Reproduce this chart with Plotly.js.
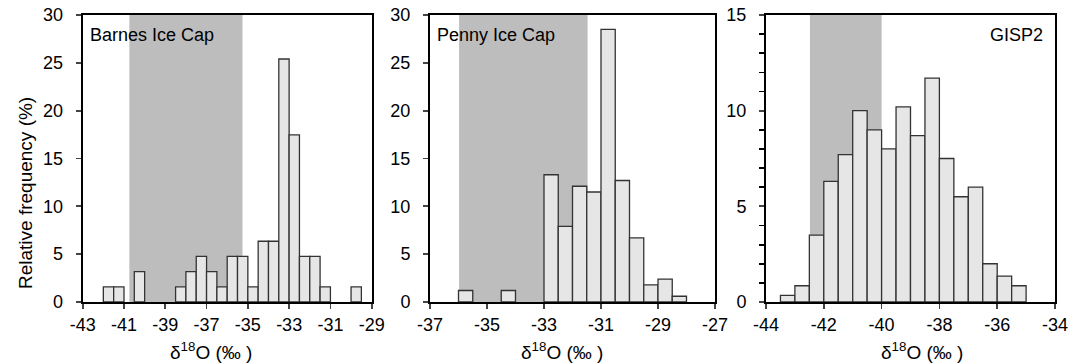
<!DOCTYPE html>
<html><head><meta charset="utf-8">
<script src="https://cdn.plot.ly/plotly-3.0.1.min.js"></script>
<style>html,body{margin:0;padding:0;background:#fff}</style>
</head><body>
<div id="chart" style="width:1079px;height:364px"></div>
<script>
// ---- data ----
const barnesBins = [-41.75,-41.25,-40.25,-38.25,-37.75,-37.25,-36.75,-36.25,-35.75,-35.25,-34.75,-34.25,-33.75,-33.25,-32.75,-32.25,-31.75,-31.25,-29.75];
const barnesFreq = [1.59,1.59,3.17,1.59,3.17,4.76,3.17,1.59,4.76,4.76,1.59,6.35,6.35,25.4,17.46,4.76,4.76,1.59,1.59];
const pennyBins = [-35.75,-34.25,-32.75,-32.25,-31.75,-31.25,-30.75,-30.25,-29.75,-29.25,-28.75,-28.25];
const pennyFreq = [1.2,1.2,13.3,7.9,12.1,11.5,28.5,12.7,6.7,1.8,2.4,0.6];
const gispBins = [-43.25,-42.75,-42.25,-41.75,-41.25,-40.75,-40.25,-39.75,-39.25,-38.75,-38.25,-37.75,-37.25,-36.75,-36.25,-35.75,-35.25];
const gispFreq = [0.35,0.85,3.5,6.3,7.7,10.0,9.0,8.0,10.2,8.7,11.7,7.5,5.5,6.0,2.0,1.35,0.85];
const binWidth = 0.5;
const barnesShade = [-40.74,-35.26];
const pennyShade = [-35.98,-31.47];
const gispShade = [-42.48,-40.0];
const barnesTicks = [-43,-41,-39,-37,-35,-33,-31,-29];
const pennyTicks = [-37,-35,-33,-31,-29,-27];
const gispTicks = [-44,-42,-40,-38,-36,-34];
const yTicks30 = [0,5,10,15,20,25,30];
const yTicks15 = [0,5,10,15];
const panelNames = ["Barnes Ice Cap","Penny Ice Cap","GISP2"];
const yTitle = "Relative frequency (%)";
const xTitle = "\u03b4<sup>18</sup>O (\u2030 )";

// ---- layout helpers ----
const W = 1079, H = 364;
const FONT = "Liberation Sans, Arial, Helvetica, sans-serif";
const FS = 18;
const px = v => v / W;
const py = v => 1 - v / H;
const yDom = [py(302), py(15)];
const bar = (x, y, xa, ya) => ({
  type: 'bar', x: x, y: y, width: binWidth, xaxis: xa, yaxis: ya,
  marker: {color: '#e6e6e6', line: {color: '#333', width: 1.3}},
  hoverinfo: 'x+y', showlegend: false
});
const lab = t => t.map(v => String(v));
const xax = (dom, ticks, anchor) => ({
  domain: dom, range: [ticks[0], ticks[ticks.length-1]], anchor: anchor,
  tickvals: ticks, ticktext: lab(ticks), ticks: 'outside', ticklen: 5, tickwidth: 1.8,
  showline: true, linewidth: 2, linecolor: '#000', mirror: true, showgrid: false, zeroline: false,
  tickfont: {family: FONT, size: FS, color: '#000'}, automargin: false
});
const yax = (ticks, anchor, minor) => {
  const a = {
    domain: yDom, range: [ticks[0], ticks[ticks.length-1]], anchor: anchor,
    tickvals: ticks, ticktext: lab(ticks), ticks: 'outside', ticklen: 5, tickwidth: 1.8,
    ticklabelstandoff: 9,
    showline: true, linewidth: 2, linecolor: '#000', mirror: true, showgrid: false, zeroline: false,
    tickfont: {family: FONT, size: FS, color: '#000'}, automargin: false
  };
  if (minor) a.minor = {dtick: 1, ticks: 'outside', ticklen: 5, tickwidth: 1.8, tickcolor: '#000', showgrid: false};
  return a;
};
const shade = (r, xa, ya) => ({
  type: 'rect', xref: xa, yref: ya + ' domain', x0: r[0], x1: r[1], y0: 0, y1: 1,
  fillcolor: '#bdbdbd', line: {width: 0}, layer: 'below'
});
const txt = (text, x, y, opts) => Object.assign({
  text: text, xref: 'paper', yref: 'paper', x: px(x), y: py(y), showarrow: false,
  font: {family: FONT, size: FS, color: '#000'}
}, opts || {});

const data = [
  bar(barnesBins, barnesFreq, 'x', 'y'),
  bar(pennyBins, pennyFreq, 'x2', 'y2'),
  bar(gispBins, gispFreq, 'x3', 'y3')
];

const XT = {family: FONT, size: 19, color: '#000'};
const layout = {
  width: W, height: H, margin: {l: 0, r: 0, t: 0, b: 0},
  paper_bgcolor: '#fff', plot_bgcolor: 'rgba(0,0,0,0)',
  bargap: 0,
  xaxis: xax([px(82.7), px(371.7)], barnesTicks, 'y'),
  yaxis: yax(yTicks30, 'x', false),
  xaxis2: xax([px(430), px(715)], pennyTicks, 'y2'),
  yaxis2: yax(yTicks30, 'x2', false),
  xaxis3: xax([px(766), px(1055)], gispTicks, 'y3'),
  yaxis3: yax(yTicks15, 'x3', true),
  shapes: [shade(barnesShade, 'x', 'y'), shade(pennyShade, 'x2', 'y2'), shade(gispShade, 'x3', 'y3')],
  annotations: [
    txt(panelNames[0], 88, 35, {xanchor: 'left', yanchor: 'middle'}),
    txt(panelNames[1], 435, 35, {xanchor: 'left', yanchor: 'middle'}),
    txt(panelNames[2], 1045, 35, {xanchor: 'right', yanchor: 'middle'}),
    txt(yTitle, 25, 193, {textangle: -90, xanchor: 'center', yanchor: 'middle', font: {family: FONT, size: 19, color: '#000'}}),
    txt(xTitle, 211, 351, {xanchor: 'center', yanchor: 'middle', font: XT}),
    txt(xTitle, 562, 351, {xanchor: 'center', yanchor: 'middle', font: XT}),
    txt(xTitle, 922, 351, {xanchor: 'center', yanchor: 'middle', font: XT})
  ]
};

Plotly.newPlot('chart', data, layout, {displayModeBar: false, staticPlot: true});
</script>
</body></html>
